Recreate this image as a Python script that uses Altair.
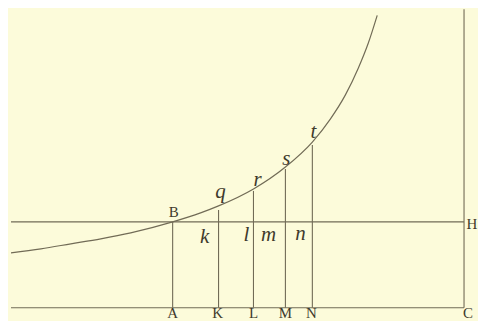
import altair as alt
import pandas as pd

# curve (x position, height above baseline AC)
curve_x = [10, 40, 70, 100, 130, 172, 200, 218, 253, 285, 312, 330, 345, 358, 368, 377]
curve_h = [55, 59, 64, 69, 75, 86, 95, 102, 119, 141, 166, 189, 213, 240, 265, 293]

# ordinates: foot letter, x, top height
ord_names = ["A", "K", "L", "M", "N"]
ord_x = [172, 218, 253, 285, 312]
ord_top = [86, 98, 117, 139, 163]

# straight lines: x, x2, h, h2
seg_x = [10, 10, 464]
seg_x2 = [464, 464, 464]
seg_h = [0, 86, 0]
seg_h2 = [0, 86, 299]

# foot labels (baseline sits at the bottom edge)
foot_text = ["A", "K", "L", "M", "N"]
foot_x = [172, 217, 253, 285, 311]
foot_h = [-13, -13, -13, -13, -13]

# other upright labels
up_text = ["B", "H", "C"]
up_x = [173, 472, 468]
up_h = [96, 84, -5]

it_text = ["q", "r", "s", "t", "k", "l", "m", "n"]
it_x = [220, 257, 286, 313, 204, 246, 268, 300]
it_h = [116, 128, 149, 176, 71, 73, 73, 74]

X = alt.Scale(domain=[8, 478])
Y = alt.Scale(domain=[-13, 297])
LINE = "#716b56"
INK = "#3f3a2c"

curve_df = pd.DataFrame({"x": curve_x, "h": curve_h})
ord_df = pd.DataFrame({"name": ord_names, "x": ord_x, "top": ord_top, "zero": [0] * 5})
seg_df = pd.DataFrame({"x": seg_x, "x2": seg_x2, "h": seg_h, "h2": seg_h2})
foot_df = pd.DataFrame({"t": foot_text, "x": foot_x, "h": foot_h})
up_df = pd.DataFrame({"t": up_text, "x": up_x, "h": up_h})
it_df = pd.DataFrame({"t": it_text, "x": it_x, "h": it_h})

curve = alt.Chart(curve_df).mark_line(color=LINE, strokeWidth=1.2, interpolate="monotone").encode(
    x=alt.X("x:Q", scale=X, axis=None), y=alt.Y("h:Q", scale=Y, axis=None)
)
ords = alt.Chart(ord_df).mark_rule(color=LINE, strokeWidth=1.1).encode(
    x=alt.X("x:Q", scale=X, axis=None), y=alt.Y("zero:Q", scale=Y, axis=None), y2="top:Q"
)
segs = alt.Chart(seg_df).mark_rule(color=LINE, strokeWidth=1.1).encode(
    x=alt.X("x:Q", scale=X, axis=None), x2="x2:Q",
    y=alt.Y("h:Q", scale=Y, axis=None), y2="h2:Q"
)
foot = alt.Chart(foot_df).mark_text(font="Liberation Serif", fontSize=15, color=INK, baseline="bottom").encode(
    x=alt.X("x:Q", scale=X, axis=None), y=alt.Y("h:Q", scale=Y, axis=None), text="t:N"
)
up = alt.Chart(up_df).mark_text(font="Liberation Serif", fontSize=15, color=INK).encode(
    x=alt.X("x:Q", scale=X, axis=None), y=alt.Y("h:Q", scale=Y, axis=None), text="t:N"
)
it = alt.Chart(it_df).mark_text(font="Liberation Serif", fontSize=21, fontStyle="italic", color=INK).encode(
    x=alt.X("x:Q", scale=X, axis=None), y=alt.Y("h:Q", scale=Y, axis=None), text="t:N"
)

chart = alt.layer(segs, ords, curve, foot, up, it).properties(
    width=470, height=310, padding=0, background="#fcfbda"
).configure_view(stroke=None)

chart.save("out.html", embed_options={"renderer": "svg", "actions": False})
